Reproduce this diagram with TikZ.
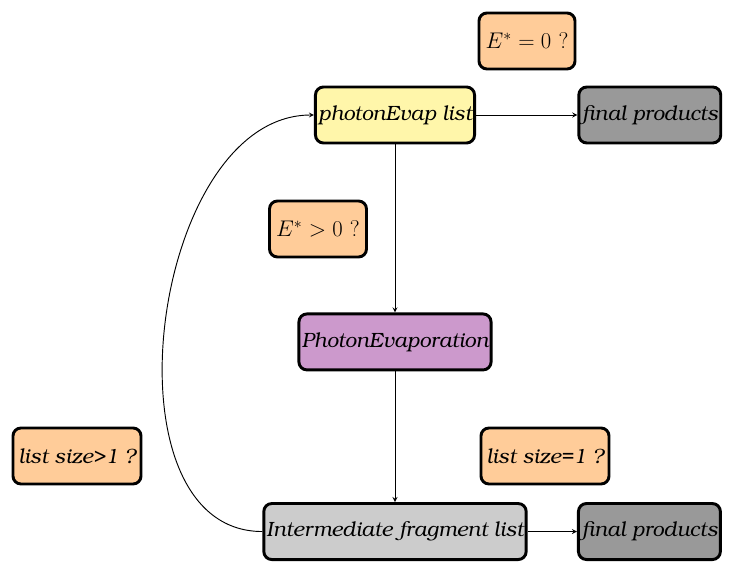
\RequirePackage{fix-cm}
\documentclass[tikz,border=0pt]{standalone}
\usepackage[T1]{fontenc}
\usepackage{bookman}
\usepackage{amsmath}
\usetikzlibrary{positioning}

\definecolor{evapyellow}{RGB}{255,246,170}
\definecolor{askorange}{RGB}{255,204,153}
\definecolor{deexpurple}{RGB}{204,153,204}
\definecolor{fraggray}{RGB}{204,204,204}
\definecolor{finalgray}{RGB}{153,153,153}

\begin{document}
\begin{tikzpicture}[x=0.75pt,y=0.75pt, >=stealth,
	bstyle/.style={rectangle, rounded corners=6pt, draw=black, line width=2.2pt,
	minimum height=42pt, inner xsep=2pt, font=\fontsize{15.5}{18}\selectfont\itshape},
	qstyle/.style={bstyle, fill=askorange, inner xsep=4pt},
	mstyle/.style={qstyle, inner xsep=5pt, font=\fontsize{17}{20}\selectfont},
	]
	\useasboundingbox (0,0) rectangle (736,561);
	\node[bstyle, fill=evapyellow] (list) at (395,446) {photonEvap list};
	\node[bstyle, fill=finalgray] (final1) [right=76pt of list] {final products};
	\node[bstyle, fill=deexpurple] (evap) [below=126pt of list] {PhotonEvaporation};
	\node[bstyle, fill=fraggray] (frag) [below=98pt of evap] {Intermediate fragment list};
	\node[bstyle, fill=finalgray] (final2) [right=37pt of frag] {final products};
	
	\node[mstyle] (zero) at (527,520) {$E^*=0\ ?$};
	\node[mstyle] (pos) at (318,332) {$E^*>0\ ?$};
	\node[qstyle] (many) at (77,105) {list size>1 ?};
	\node[qstyle] (one) at (545,105) {list size=1 ?};
	
	\draw[->, line width=0.7pt] (list.east) to (final1.west);
	\draw[->, line width=0.7pt] (list.south) to (evap.north);
	\draw[->, line width=0.7pt] (evap.south) to (frag.north);
	\draw[->, line width=0.7pt] (frag.east) to (final2.west);
	\draw[->, line width=0.7pt] (frag.west) to[out=180,in=180] (list.west);
\end{tikzpicture}
\end{document}
